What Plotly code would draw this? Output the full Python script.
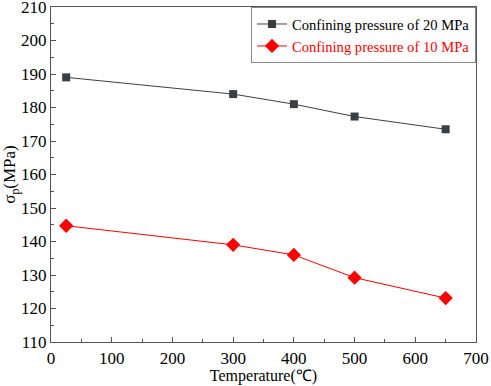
import plotly.graph_objects as go

temperature = [25, 300, 400, 500, 650]
sigma_20 = [189.0, 184.0, 181.0, 177.3, 173.5]
sigma_10 = [144.7, 139.0, 136.0, 129.2, 123.1]
name_20 = "Confining pressure of 20 MPa"
name_10 = "Confining pressure of 10 MPa"

FONT = "Liberation Serif, Times New Roman, serif"

fig = go.Figure()
fig.add_trace(go.Scatter(
    x=temperature, y=sigma_20, mode="lines+markers", name=name_20,
    line=dict(color="#404040", width=1),
    marker=dict(symbol="square", size=8, color="#3a3f44"),
))
fig.add_trace(go.Scatter(
    x=temperature, y=sigma_10, mode="lines+markers",
    name='<span style="color:#ff0000">' + name_10 + "</span>",
    line=dict(color="#ff0000", width=1),
    marker=dict(symbol="diamond", size=11, color="#ff0000"),
))

axis_common = dict(
    showgrid=False, zeroline=False, showline=True, linecolor="#555555",
    linewidth=1.2, mirror=True, ticks="inside", ticklen=5, tickcolor="#555555",
    tickfont=dict(family=FONT, size=17, color="#000000"),
    minor=dict(ticks="inside", ticklen=3, tickcolor="#555555"),
    automargin=False, ticklabeloverflow="allow",
)

fig.update_layout(
    width=491, height=386,
    margin=dict(l=51, r=15, t=7, b=44),
    paper_bgcolor="white", plot_bgcolor="white",
    font=dict(family=FONT, color="#000000"),
    xaxis=dict(range=[0, 700], dtick=100, tick0=0,
               minor_dtick=50, ticklabelstandoff=0,
               title=dict(text="Temperature(℃)", font=dict(family=FONT, size=16), standoff=0),
               **axis_common),
    yaxis=dict(range=[110, 210], dtick=10, tick0=110,
               minor_dtick=5, ticklabelstandoff=0,
               title=dict(text="σ<sub>p</sub>(MPa)", font=dict(family=FONT, size=17), standoff=2),
               **axis_common),
    legend=dict(x=1, y=1, xanchor="right", yanchor="top",
                bordercolor="#888888", borderwidth=1, bgcolor="white",
                font=dict(family=FONT, size=14.6, color="#000000"),
                tracegroupgap=0, itemwidth=30),
    showlegend=True,
)

fig.write_html("out.html", config={"displayModeBar": False},
               post_script="document.body.style.margin='0';")
